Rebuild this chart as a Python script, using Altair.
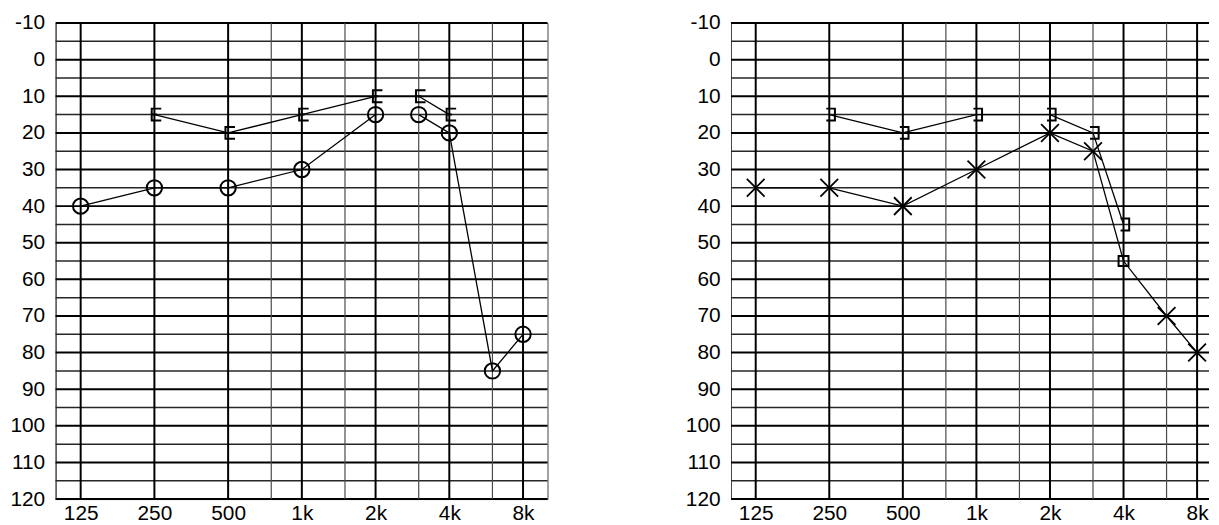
import altair as alt
import pandas as pd

# ---------------- data ----------------
octave_freqs = [125, 250, 500, 1000, 2000, 4000, 8000]
mid_freqs = [750, 1500, 3000, 6000]
db_major = list(range(-10, 121, 10))
db_minor = list(range(-5, 116, 10))

# Right ear (left panel): air conduction "O"
r_ac_freq = [125, 250, 500, 1000, 2000, 3000, 4000, 6000, 8000]
r_ac_db = [40, 35, 35, 30, 15, 15, 20, 85, 75]
r_ac_seg = [1, 1, 1, 1, 1, 2, 2, 2, 2]
# Right ear bone conduction "["
r_bc_freq = [250, 500, 1000, 2000, 3000, 4000]
r_bc_db = [15, 20, 15, 10, 10, 15]
r_bc_seg = [1, 1, 1, 1, 2, 2]

# Left ear (right panel): air conduction "X" (square = masked at 4k)
l_ac_freq = [125, 250, 500, 1000, 2000, 3000, 4000, 6000, 8000]
l_ac_db = [35, 35, 40, 30, 20, 25, 55, 70, 80]
l_ac_sym = ["x", "x", "x", "x", "x", "x", "sq", "x", "x"]
# Left ear bone conduction "]"
l_bc_freq = [250, 500, 1000, 2000, 3000, 4000]
l_bc_db = [15, 20, 15, 15, 20, 45]

# ---------------- styling ----------------
FONT = "Liberation Sans"
FS = 21
X_PATH = "M-1,-1L1,1M-1,1L1,-1"
LBR_PATH = "M1.15,-1L-0.45,-1L-0.45,1L1.15,1M-0.45,0L0.45,0"
RBR_PATH = "M-0.5,-1L0.95,-1L0.95,1L-0.5,1"

hmaj = pd.DataFrame({"db": db_major})
hmin = pd.DataFrame({"db": db_minor})
vmaj = pd.DataFrame({"f": octave_freqs})
vmin = pd.DataFrame({"f": mid_freqs})


def enc_x(domain):
    return alt.X(
        "f:Q",
        scale=alt.Scale(type="log", base=2, domain=domain, nice=False),
        axis=alt.Axis(
            values=octave_freqs,
            labelExpr="datum.value >= 1000 ? (datum.value / 1000) + 'k' : '' + datum.value",
            grid=False, ticks=False, domain=False, labelPadding=4,
            labelFontSize=FS, labelFont=FONT, labelColor="black",
            labelFlush=False, labelOverlap=False, title=None,
        ),
    )


def enc_y():
    return alt.Y(
        "db:Q",
        scale=alt.Scale(domain=[-10, 120], reverse=True, nice=False, zero=False),
        axis=alt.Axis(
            values=db_major, labelExpr="'' + datum.value",
            grid=False, ticks=False, domain=True, domainColor="#444",
            domainWidth=1, labelPadding=11, labelFontSize=FS,
            labelFont=FONT, labelColor="black", title=None,
        ),
    )


def grid_layers(domain):
    X = enc_x(domain)
    Y = enc_y()
    return [
        alt.Chart(hmin).mark_rule(color="#262626", strokeWidth=1.5).encode(y=Y),
        alt.Chart(hmaj).mark_rule(color="#000000", strokeWidth=2).encode(y=Y),
        alt.Chart(vmin).mark_rule(color="#4a4a4a", strokeWidth=1.2).encode(x=X),
        alt.Chart(vmaj).mark_rule(color="#000000", strokeWidth=2).encode(x=X),
    ]


# ---------------- left panel (right ear) ----------------
dom_l = [125 * 2 ** -0.340, 8000 * 2 ** 0.332]
XL, YL = enc_x(dom_l), enc_y()
r_ac = pd.DataFrame({"f": r_ac_freq, "db": r_ac_db, "seg": r_ac_seg})
r_bc = pd.DataFrame({"f": r_bc_freq, "db": r_bc_db, "seg": r_bc_seg})

left = alt.layer(
    *grid_layers(dom_l),
    alt.Chart(r_ac).mark_line(color="black", strokeWidth=1.3).encode(
        x=XL, y=YL, detail="seg:N", order="f:Q"),
    alt.Chart(r_bc).mark_line(color="black", strokeWidth=1.3).encode(
        x=XL, y=YL, detail="seg:N", order="f:Q"),
    alt.Chart(r_ac).mark_point(shape="circle", size=240, filled=False,
                               color="black", strokeWidth=2, opacity=1).encode(x=XL, y=YL),
    alt.Chart(r_bc).mark_point(shape=LBR_PATH, size=144, filled=False,
                               color="black", strokeWidth=2, opacity=1).encode(x=XL, y=YL),
).properties(width=496, height=480,
             view=alt.ViewBackground(stroke="#444444", strokeWidth=1))

# ---------------- right panel (left ear) ----------------
dom_r = [125 * 2 ** -0.336, 8000 * 2 ** 0.162]
XR, YR = enc_x(dom_r), enc_y()
l_ac = pd.DataFrame({"f": l_ac_freq, "db": l_ac_db, "sym": l_ac_sym})
l_bc = pd.DataFrame({"f": l_bc_freq, "db": l_bc_db})

right = alt.layer(
    *grid_layers(dom_r),
    alt.Chart(l_ac).mark_line(color="black", strokeWidth=1.3).encode(
        x=XR, y=YR, order="f:Q"),
    alt.Chart(l_bc).mark_line(color="black", strokeWidth=1.3).encode(
        x=XR, y=YR, order="f:Q"),
    alt.Chart(l_ac).transform_filter("datum.sym == 'x'").mark_point(
        shape=X_PATH, size=320, filled=False, color="black",
        strokeWidth=1.8, opacity=1).encode(x=XR, y=YR),
    alt.Chart(l_ac).transform_filter("datum.sym == 'sq'").mark_point(
        shape="square", size=100, filled=False, color="black",
        strokeWidth=2, opacity=1).encode(x=XR, y=YR),
    alt.Chart(l_bc).mark_point(shape=RBR_PATH, size=144, filled=False,
                               color="black", strokeWidth=2, opacity=1).encode(x=XR, y=YR),
).properties(width=482, height=480,
             view=alt.ViewBackground(stroke="transparent"))

chart = alt.hconcat(left, right, spacing=136).properties(
    padding={"left": 1, "top": 1, "right": 0, "bottom": 0},
    background="white",
)

chart.save("out.html", embed_options={"renderer": "svg", "actions": False})
